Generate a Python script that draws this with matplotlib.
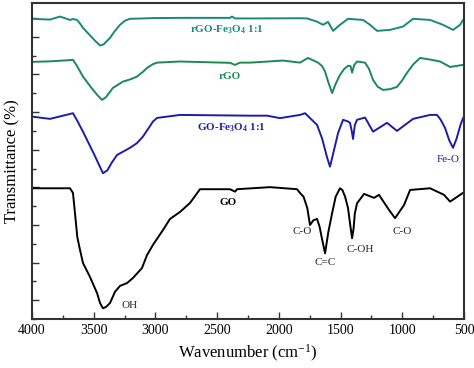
import matplotlib
matplotlib.use("Agg")
import matplotlib.pyplot as plt
from matplotlib.ticker import MultipleLocator

plt.rcParams['font.family'] = ['Liberation Serif', 'DejaVu Serif']
plt.rcParams['mathtext.fontset'] = 'custom'
plt.rcParams['mathtext.rm'] = 'Liberation Serif'
plt.rcParams['mathtext.bf'] = 'Liberation Serif:bold'
plt.rcParams['mathtext.it'] = 'Liberation Serif:italic'

# ---- data (wavenumber cm^-1, transmittance offset units) ----
rgofe_wn = [4000, 3854, 3773, 3692, 3668, 3635, 3610, 3587, 3540, 3490, 3449, 3420, 3368, 3330, 3287,
            3250, 3206, 3000, 2800, 2396, 2380, 2355, 2234, 1829, 1772, 1691, 1642, 1602, 1561, 1505,
            1440, 1318, 1261, 1205, 1100, 994, 913, 775, 670, 589, 532, 508]
rgofe_t = [15.96, 15.92, 16.08, 15.90, 15.95, 15.90, 15.70, 15.48, 15.15, 14.80, 14.54, 14.60, 14.95,
           15.30, 15.64, 15.85, 15.96, 16.00, 16.01, 16.01, 16.08, 15.98, 15.98, 15.99, 15.98, 15.81,
           15.64, 15.80, 15.32, 15.64, 15.96, 15.90, 15.64, 15.32, 15.37, 15.55, 15.96, 15.90, 15.64,
           15.37, 15.64, 15.90]

rgo_wn = [4000, 3850, 3700, 3668, 3640, 3587, 3520, 3470, 3433, 3400, 3344, 3263, 3200, 3149, 3100,
          3068, 3020, 2987, 2801, 2396, 2355, 2315, 2234, 1966, 1829, 1764, 1683, 1650, 1626, 1600,
          1569, 1540, 1505, 1470, 1440, 1420, 1407, 1390, 1367, 1302, 1270, 1237, 1200, 1156, 1100,
          1043, 1000, 962, 910, 856, 780, 694, 613, 508]
rgo_t = [13.67, 13.70, 13.76, 13.78, 13.50, 12.89, 12.30, 11.90, 11.65, 11.80, 12.29, 12.62, 12.75,
         12.89, 13.15, 13.35, 13.55, 13.63, 13.69, 13.62, 13.51, 13.63, 13.63, 13.74, 13.63, 13.88,
         13.63, 13.45, 13.15, 12.60, 12.01, 12.50, 12.98, 13.30, 13.46, 13.45, 13.10, 13.50, 13.69,
         13.63, 13.30, 12.71, 12.35, 12.18, 12.22, 12.34, 12.70, 13.09, 13.55, 13.88, 13.80, 13.69,
         13.40, 13.51]

gofe_wn = [4000, 3854, 3668, 3630, 3587, 3500, 3450, 3425, 3390, 3350, 3311, 3206, 3150, 3101, 3050,
           3020, 2987, 2801, 2234, 2096, 1991, 1829, 1788, 1691, 1650, 1610, 1586, 1560, 1520, 1480,
           1440, 1424, 1410, 1399, 1385, 1367, 1302, 1237, 1124, 1043, 913, 775, 719, 690, 654, 620,
           589, 560, 530, 508]
gofe_t = [10.76, 10.64, 10.94, 10.50, 9.96, 8.80, 8.10, 7.75, 7.90, 8.35, 8.72, 9.10, 9.35, 9.70,
          10.20, 10.50, 10.69, 10.85, 10.81, 10.81, 10.68, 10.85, 10.94, 10.32, 9.60, 8.60, 8.10, 8.80,
          9.90, 10.59, 10.50, 10.43, 10.00, 9.57, 10.30, 10.59, 10.71, 9.96, 10.43, 10.00, 10.64,
          10.85, 10.85, 10.60, 10.16, 9.50, 9.10, 9.60, 10.30, 10.68]

go_wn = [4000, 3692, 3668, 3652, 3633, 3611, 3587, 3530, 3473, 3449, 3425, 3400, 3368, 3328, 3287,
         3230, 3182, 3109, 3068, 3020, 2939, 2882, 2801, 2720, 2639, 2396, 2355, 2339, 2072, 1853,
         1829, 1800, 1770, 1748, 1720, 1691, 1670, 1655, 1626, 1600, 1569, 1540, 1505, 1485, 1464,
         1440, 1420, 1407, 1395, 1385, 1367, 1310, 1229, 1189, 1108, 1059, 986, 937, 775, 662, 613,
         532, 500]
go_t = [6.95, 6.95, 6.70, 5.64, 4.36, 3.67, 2.98, 2.23, 1.38, 0.85, 0.57, 0.64, 0.85, 1.44, 1.76,
        1.91, 2.18, 2.71, 3.40, 3.94, 4.73, 5.32, 5.69, 6.17, 6.90, 6.90, 6.77, 6.90, 7.01, 6.90,
        6.70, 6.50, 5.90, 5.00, 5.25, 5.32, 4.90, 4.40, 3.49, 4.60, 5.62, 6.50, 6.95, 6.85, 6.51,
        5.90, 4.90, 4.29, 4.80, 5.60, 6.15, 6.65, 6.44, 6.60, 5.80, 5.36, 6.06, 6.86, 6.95, 6.60,
        6.24, 6.60, 6.74]

series_labels = [r"rGO-Fe$_\mathbf{3}$O$_\mathbf{4}$ 1:1", "rGO",
                 r"GO-Fe$_\mathbf{3}$O$_\mathbf{4}$ 1:1", "GO"]
series_label_pos = [(2420, 15.37), (2396, 12.87), (2388, 10.16), (2412, 6.22)]
colors = ['#18897a', '#1a8a55', '#1c1caa', '#000000']

peak_labels = ["OH", "C-O", "C=C", "C-OH", "C-O", "Fe-O"]
peak_pos = [(3206, 0.74), (1812, 4.63), (1626, 2.98), (1343, 3.67), (1002, 4.63), (630, 8.46)]
peak_colors = ['#222222', '#222222', '#222222', '#222222', '#222222', '#1c1caa']

fig = plt.figure(figsize=(4.74, 3.68), dpi=100)
ax = fig.add_axes([0.0675, 0.1332, 0.9115, 0.8586])

for wn, t, c in zip([rgofe_wn, rgo_wn, gofe_wn, go_wn], [rgofe_t, rgo_t, gofe_t, go_t], colors):
    ax.plot(wn, t, color=c, lw=1.4, solid_joinstyle='round')

for lab, (x, y), c in zip(series_labels, series_label_pos, colors):
    ax.text(x, y, lab, color=c, fontsize=8, fontweight='bold', ha='center', va='center')

for lab, (x, y), c in zip(peak_labels, peak_pos, peak_colors):
    ax.text(x, y, lab, color=c, fontsize=8, ha='center', va='center')

ax.set_xlim(4000, 500)
ax.set_ylim(0, 16.8)
ax.xaxis.set_major_locator(MultipleLocator(500))
ax.xaxis.set_minor_locator(MultipleLocator(250))
ax.yaxis.set_major_locator(MultipleLocator(2, offset=1))
ax.yaxis.set_minor_locator(MultipleLocator(1))
ax.tick_params(axis='both', which='major', direction='in', length=5, width=1, labelsize=10, color='#333333')
ax.tick_params(axis='both', which='minor', direction='in', length=3, width=1, color='#333333')
ax.tick_params(axis='y', which='both', labelleft=False)
for s in ax.spines.values():
    s.set_linewidth(1.5)
    s.set_color('#333333')

ax.set_xlabel(r"Wavenumber (cm$^{\mathrm{-1}}$)", fontsize=12, labelpad=4)
ax.set_ylabel("Transmittance (%)", fontsize=12, labelpad=8)

fig.savefig("out.png", dpi=100)
